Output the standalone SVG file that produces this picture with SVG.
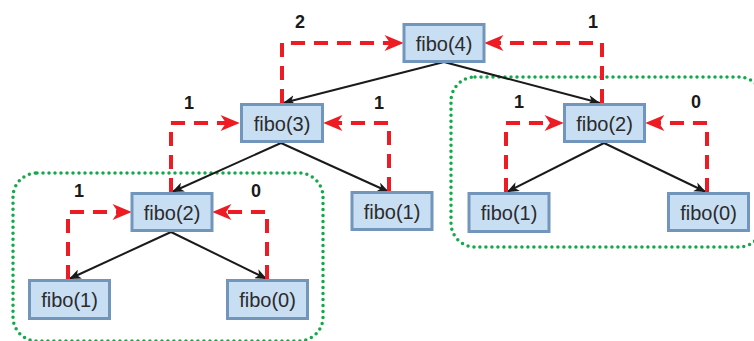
<svg xmlns="http://www.w3.org/2000/svg" width="754" height="341" viewBox="0 0 754 341">
<defs>
<style>
.box rect{fill:#c8def3;stroke:#7295bb;stroke-width:3}
.box text{font-family:"Liberation Sans",Arial,sans-serif;font-size:20px;fill:#2b2b2b;text-anchor:middle}
.num{font-family:"Liberation Sans",Arial,sans-serif;font-size:18px;font-weight:bold;fill:#1a1a1a;text-anchor:middle}
.red{fill:none;stroke:#ed1c24;stroke-width:4;stroke-dasharray:14 9;marker-end:url(#ra)}
.blk{fill:none;stroke:#1a1a1a;stroke-width:2;marker-end:url(#ba)}
.grp{fill:none;stroke:#14a84a;stroke-width:3.5;stroke-dasharray:0 6;stroke-linecap:round}
</style>
<marker id="ra" markerUnits="userSpaceOnUse" markerWidth="20" markerHeight="16" viewBox="0 0 18 15" refX="6" refY="7.5" orient="auto">
<path d="M0,0 L18,7.5 L0,15 L5,7.5 Z" fill="#ed1c24"/>
</marker>
<marker id="ba" markerUnits="userSpaceOnUse" markerWidth="12" markerHeight="10" viewBox="0 0 11 9" refX="11" refY="4.5" orient="auto">
<path d="M0,0 L11,4.5 L0,9 L3,4.5 Z" fill="#1a1a1a"/>
</marker>
</defs>
<rect width="754" height="341" fill="#ffffff"/>
<g id="groups">
<rect class="grp" x="13" y="173" width="310" height="168" rx="24"/>
<rect class="grp" x="451" y="77" width="312" height="170" rx="24"/>
</g>
<g id="connectors">
<path class="blk" d="M444,62 L283,103"/>
<path class="blk" d="M444,62 L600,103"/>
<path class="blk" d="M281,143 L172,192"/>
<path class="blk" d="M281,143 L389,192"/>
<path class="blk" d="M171,232 L69,279"/>
<path class="blk" d="M171,232 L267,279"/>
<path class="blk" d="M604,143 L507,192"/>
<path class="blk" d="M604,143 L706,192"/>
<path class="red" d="M282,103 V43 H391"/>
<path class="red" d="M602,103 V43 H497"/>
<path class="red" d="M171,192 V123 H227"/>
<path class="red" d="M389,191 V123 H336"/>
<path class="red" d="M68,279 V212 H119"/>
<path class="red" d="M267,279 V212 H225"/>
<path class="red" d="M506,192 V123 H551"/>
<path class="red" d="M707,192 V123 H658"/>
<text class="num" x="300" y="28">2</text>
<text class="num" x="593" y="28">1</text>
<text class="num" x="189" y="109">1</text>
<text class="num" x="379" y="109">1</text>
<text class="num" x="79" y="197">1</text>
<text class="num" x="256" y="197">0</text>
<text class="num" x="519" y="108">1</text>
<text class="num" x="696" y="108">0</text>
</g>
<g id="n4" class="box"><rect x="404" y="24.5" width="80" height="37"/><text x="444" y="50.5">fibo(4)</text></g>
<g id="n3" class="box"><rect x="241.5" y="104.5" width="81" height="37"/><text x="282" y="130.5">fibo(3)</text></g>
<g id="n2L" class="box"><rect x="132" y="193.5" width="80" height="37"/><text x="172" y="219.5">fibo(2)</text></g>
<g id="n1M" class="box"><rect x="352" y="192.5" width="80" height="37"/><text x="392" y="218.5">fibo(1)</text></g>
<g id="n1L" class="box"><rect x="29.5" y="280.5" width="80" height="38"/><text x="69.5" y="307">fibo(1)</text></g>
<g id="n0L" class="box"><rect x="227.5" y="280.5" width="80" height="38"/><text x="267.5" y="307">fibo(0)</text></g>
<g id="n2R" class="box"><rect x="564.5" y="104.5" width="80" height="37"/><text x="604.5" y="130.5">fibo(2)</text></g>
<g id="n1R" class="box"><rect x="469" y="193.5" width="80" height="38"/><text x="509" y="220">fibo(1)</text></g>
<g id="n0R" class="box"><rect x="668.5" y="193.5" width="80" height="37"/><text x="708.5" y="219.5">fibo(0)</text></g>
</svg>
